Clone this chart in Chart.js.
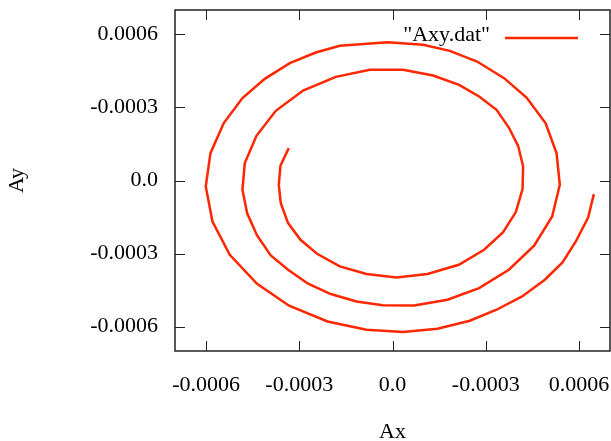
<!DOCTYPE html>
<html>
<head>
<meta charset="utf-8">
<script src="https://cdn.jsdelivr.net/npm/chart.js@4/dist/chart.umd.min.js"></script>
<style>
  html, body { margin: 0; padding: 0; background: #fff; }
  #wrap { width: 611px; height: 441px; }
</style>
</head>
<body>
<div id="wrap"><canvas id="spiralChart"></canvas></div>
<script>
// Ax / Ay values (spiral from inner end outward)
const axValues = [
  -3.338e-4, -3.605e-4, -3.660e-4, -3.596e-4, -3.361e-4, -2.961e-4, -2.414e-4, -1.696e-4,
  -0.837e-4, 0.129e-4, 1.127e-4, 2.134e-4, 2.949e-4, 3.560e-4, 3.969e-4, 4.185e-4,
  4.204e-4, 4.043e-4, 3.744e-4, 3.348e-4, 2.788e-4, 2.144e-4, 1.307e-4, 0.341e-4,
  -0.731e-4, -1.825e-4, -2.878e-4, -3.757e-4, -4.378e-4, -4.754e-4, -4.829e-4, -4.680e-4,
  -4.359e-4, -3.918e-4, -3.361e-4, -2.717e-4, -1.986e-4, -1.159e-4, -0.312e-4, 0.695e-4,
  1.770e-4, 2.788e-4, 3.744e-4, 4.558e-4, 5.138e-4, 5.385e-4, 5.279e-4, 4.925e-4,
  4.313e-4, 3.592e-4, 2.723e-4, 1.844e-4, 0.985e-4, -0.151e-4, -1.696e-4, -2.469e-4,
  -3.306e-4, -4.111e-4, -4.829e-4, -5.430e-4, -5.859e-4, -6.010e-4, -5.794e-4, -5.237e-4,
  -4.359e-4, -3.328e-4, -2.092e-4, -0.837e-4, 0.341e-4, 1.449e-4, 2.488e-4, 3.348e-4,
  4.172e-4, 4.903e-4, 5.472e-4, 5.900e-4, 6.296e-4, 6.480e-4
];
const ayValues = [
  1.330e-4, 0.616e-4, -0.176e-4, -0.928e-4, -1.748e-4, -2.434e-4, -3.021e-4, -3.529e-4,
  -3.841e-4, -3.981e-4, -3.841e-4, -3.460e-4, -2.844e-4, -2.118e-4, -1.297e-4, -0.353e-4,
  0.575e-4, 1.424e-4, 2.175e-4, 2.902e-4, 3.447e-4, 3.928e-4, 4.309e-4, 4.543e-4,
  4.543e-4, 4.256e-4, 3.694e-4, 2.860e-4, 1.834e-4, 0.714e-4, -0.382e-4, -1.338e-4,
  -2.257e-4, -3.078e-4, -3.665e-4, -4.239e-4, -4.662e-4, -4.966e-4, -5.122e-4, -5.130e-4,
  -4.896e-4, -4.416e-4, -3.665e-4, -2.680e-4, -1.477e-4, -0.176e-4, 1.124e-4, 2.356e-4,
  3.406e-4, 4.202e-4, 4.884e-4, 5.323e-4, 5.569e-4, 5.672e-4, 5.528e-4, 5.253e-4,
  4.818e-4, 4.174e-4, 3.382e-4, 2.356e-4, 1.124e-4, -0.246e-4, -1.683e-4, -3.049e-4,
  -4.239e-4, -5.142e-4, -5.787e-4, -6.127e-4, -6.222e-4, -6.086e-4, -5.758e-4, -5.306e-4,
  -4.761e-4, -4.075e-4, -3.365e-4, -2.503e-4, -1.518e-4, -0.558e-4
];

// tick positions and the labels as printed on the original
const tickValues = [-0.0006, -0.0003, 0, 0.0003, 0.0006];
const xTickLabels = ['-0.0006', '-0.0003', '0.0', '-0.0003', '0.0006'];
const yTickLabels = ['-0.0006', '-0.0003', '0.0', '-0.0003', '0.0006'];

const seriesLabel = '"Axy.dat"';
const lineColor = 'rgb(255, 38, 0)';
const frameColor = '#222';
const fontFamily = '"Liberation Serif", "DejaVu Serif", serif';

const points = axValues.map((x, i) => ({ x: x, y: ayValues[i] }));

// inward tick marks on all four sides, the frame and a gnuplot-like key
const framePlugin = {
  id: 'gnuplotFrame',
  afterDraw(chart) {
    const { ctx, chartArea: a, scales } = chart;
    const tl = 10;
    ctx.save();
    ctx.strokeStyle = frameColor;
    ctx.lineWidth = 1;
    ctx.beginPath();
    tickValues.forEach(v => {
      const px = Math.round(scales.x.getPixelForValue(v)) + 0.5;
      ctx.moveTo(px, a.bottom); ctx.lineTo(px, a.bottom - tl);
      ctx.moveTo(px, a.top); ctx.lineTo(px, a.top + tl);
      const py = Math.round(scales.y.getPixelForValue(v)) + 0.5;
      ctx.moveTo(a.left, py); ctx.lineTo(a.left + tl, py);
      ctx.moveTo(a.right, py); ctx.lineTo(a.right - tl, py);
    });
    ctx.stroke();
    ctx.lineWidth = 1.5;
    ctx.strokeRect(a.left, a.top, a.right - a.left, a.bottom - a.top);

    // key
    const ds = chart.data.datasets[0];
    ctx.font = '22px ' + fontFamily;
    ctx.fillStyle = '#000';
    ctx.textAlign = 'right';
    ctx.textBaseline = 'middle';
    ctx.fillText(ds.label, a.right - 120, a.top + 25);
    ctx.strokeStyle = ds.borderColor;
    ctx.lineWidth = ds.borderWidth;
    ctx.beginPath();
    ctx.moveTo(a.right - 105, a.top + 28);
    ctx.lineTo(a.right - 32, a.top + 28);
    ctx.stroke();
    ctx.restore();
  }
};

const setTicks = scale => { scale.ticks = tickValues.map(v => ({ value: v })); };
const noPad = s => { s.paddingTop = 0; s.paddingBottom = 0; s.paddingLeft = 0; s.paddingRight = 0; };

new Chart(document.getElementById('spiralChart'), {
  type: 'scatter',
  data: {
    datasets: [{
      label: seriesLabel,
      data: points,
      showLine: true,
      borderColor: lineColor,
      backgroundColor: lineColor,
      borderWidth: 2.5,
      pointRadius: 0,
      tension: 0
    }]
  },
  options: {
    responsive: true,
    maintainAspectRatio: false,
    animation: false,
    layout: { padding: { top: 10, right: 1, left: 0, bottom: 0 } },
    plugins: { legend: { display: false }, tooltip: { enabled: false } },
    scales: {
      x: {
        type: 'linear',
        min: -0.0007,
        max: 0.0007,
        afterBuildTicks: setTicks,
        afterFit: s => { s.height = 90; noPad(s); },
        grid: { drawOnChartArea: false, drawTicks: false, display: false },
        border: { display: false },
        ticks: {
          padding: 21,
          color: '#000',
          font: { family: fontFamily, size: 22 },
          maxRotation: 0,
          callback: (v, i) => xTickLabels[i]
        },
        title: {
          display: true,
          text: 'Ax',
          color: '#000',
          font: { family: fontFamily, size: 22, lineHeight: 0.8 },
          padding: { top: 0, bottom: 0 }
        }
      },
      y: {
        type: 'linear',
        min: -0.0007,
        max: 0.0007,
        afterBuildTicks: setTicks,
        afterFit: s => { s.width = 175; noPad(s); },
        grid: { drawOnChartArea: false, drawTicks: false, display: false },
        border: { display: false },
        ticks: {
          padding: 17,
          color: '#000',
          font: { family: fontFamily, size: 22 },
          callback: (v, i) => yTickLabels[i]
        },
        title: {
          display: true,
          text: 'Ay',
          color: '#000',
          font: { family: fontFamily, size: 22, lineHeight: 1.2 },
          padding: { top: 4, bottom: 0 }
        }
      }
    }
  },
  plugins: [framePlugin]
});
</script>
</body>
</html>
